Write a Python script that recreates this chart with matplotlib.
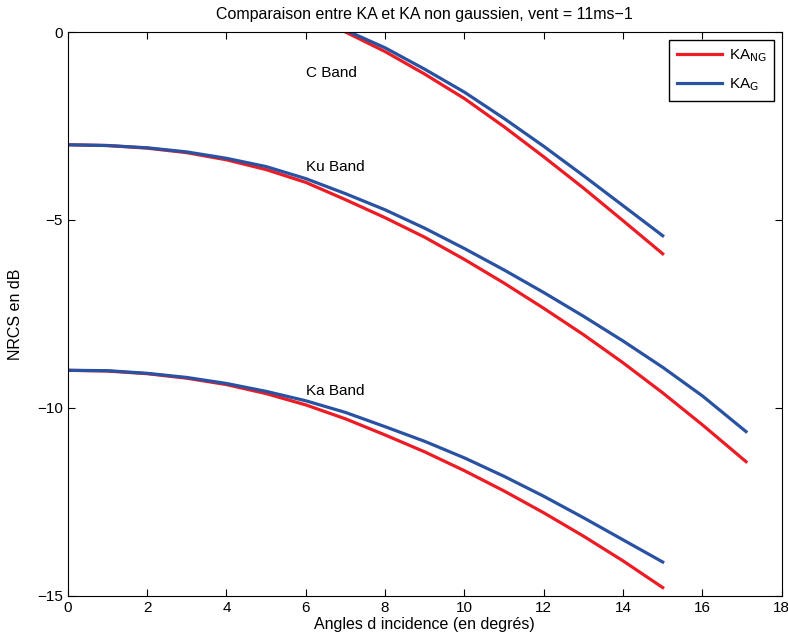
import matplotlib
matplotlib.use('Agg')
import matplotlib.pyplot as plt

plt.rcParams['font.family'] = ['Liberation Sans', 'DejaVu Sans']

# C band (starts above the top of the axes, clipped at 0 dB)
c_x = [6.9, 7, 8, 9, 10, 11, 12, 13, 14, 15]
c_ng = [0.05, 0.0, -0.52, -1.12, -1.77, -2.52, -3.32, -4.15, -5.02, -5.90]
c_g = [0.10, 0.05, -0.42, -0.99, -1.60, -2.30, -3.04, -3.82, -4.62, -5.42]

# Ku band
ku_x = [0, 1, 2, 3, 4, 5, 6, 7, 8, 9, 10, 11, 12, 13, 14, 15, 16, 17.1]
ku_ng = [-3.0, -3.02, -3.09, -3.21, -3.40, -3.66, -4.00, -4.46, -4.94, -5.46,
         -6.05, -6.68, -7.35, -8.05, -8.80, -9.60, -10.45, -11.43]
ku_g = [-3.0, -3.02, -3.08, -3.19, -3.36, -3.58, -3.90, -4.30, -4.73, -5.22,
        -5.76, -6.33, -6.93, -7.56, -8.22, -8.92, -9.68, -10.63]

# Ka band
ka_x = [0, 1, 2, 3, 4, 5, 6, 7, 8, 9, 10, 11, 12, 13, 14, 15]
ka_ng = [-9.0, -9.02, -9.09, -9.21, -9.38, -9.62, -9.92, -10.29, -10.72,
         -11.17, -11.67, -12.21, -12.79, -13.41, -14.07, -14.78]
ka_g = [-9.0, -9.01, -9.08, -9.19, -9.35, -9.56, -9.81, -10.12, -10.50,
        -10.89, -11.33, -11.82, -12.35, -12.92, -13.51, -14.10]

red = '#ed1c24'
blue = '#2a52a2'

fig = plt.figure(figsize=(7.88, 6.4), dpi=100)
ax = fig.add_axes([0.086, 0.069, 0.906, 0.881])

ax.plot(ku_x, ku_ng, color=red, lw=2.3, label=r'KA$_{\mathrm{NG}}$')
ax.plot(ku_x, ku_g, color=blue, lw=2.3, label=r'KA$_{\mathrm{G}}$')
ax.plot(c_x, c_ng, color=red, lw=2.3)
ax.plot(c_x, c_g, color=blue, lw=2.3)
ax.plot(ka_x, ka_ng, color=red, lw=2.3)
ax.plot(ka_x, ka_g, color=blue, lw=2.3)

ax.text(6, -1.1, 'C Band', fontsize=11, va='center')
ax.text(6, -3.58, 'Ku Band', fontsize=11, va='center')
ax.text(6, -9.55, 'Ka Band', fontsize=11, va='center')

ax.set_xlim(0, 18)
ax.set_ylim(-15, 0)
ax.set_xticks(range(0, 19, 2))
ax.set_yticks([-15, -10, -5, 0])
ax.tick_params(direction='in', top=True, right=True, length=5, labelsize=11)

ax.set_title('Comparaison entre KA et KA non gaussien, vent = 11ms\u22121', fontsize=11.5, pad=9)
ax.set_xlabel('Angles d incidence (en degrés)', fontsize=11.5, labelpad=2)
ax.set_ylabel('NRCS en dB', fontsize=11.5, labelpad=10)

leg = ax.legend(loc='upper right', fontsize=11, fancybox=False, edgecolor='black',
                framealpha=1, borderaxespad=0.5, borderpad=0.5, labelspacing=0.8,
                handlelength=3.0, handletextpad=0.4)
leg.get_frame().set_linewidth(1.0)

fig.savefig('out.png', dpi=100)
